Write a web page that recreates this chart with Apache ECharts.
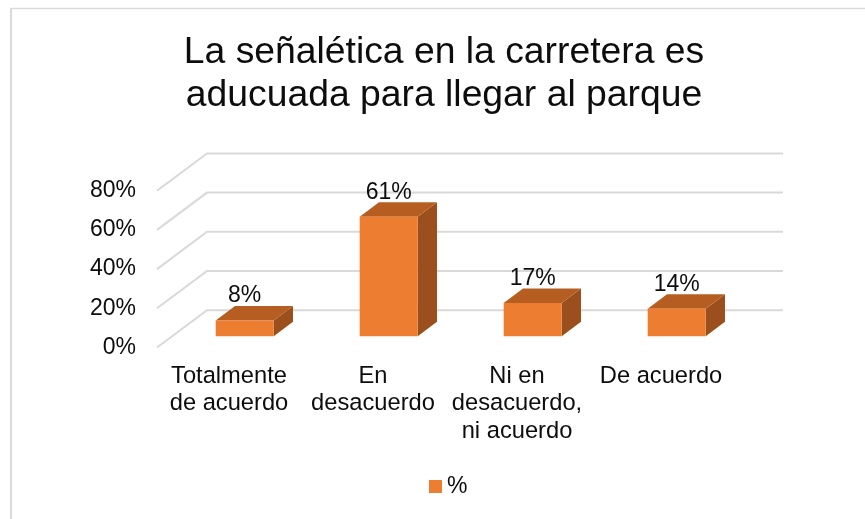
<!DOCTYPE html>
<html>
<head>
<meta charset="utf-8">
<style>html,body{margin:0;padding:0;background:#fff}#c{width:865px;height:519px}</style>
<script src="https://cdn.jsdelivr.net/npm/echarts@6/dist/echarts.min.js"></script>
</head>
<body>
<div id="c"></div>
<script>
const titleText = 'La señalética en la carretera es\naducuada para llegar al parque';
const categories = ['Totalmente\nde acuerdo', 'En\ndesacuerdo', 'Ni en\ndesacuerdo,\nni acuerdo', 'De acuerdo'];
const values = [8, 61, 17, 14];
const yTicks = [0, 20, 40, 60, 80];
const seriesName = '%';

const FONT = '"Liberation Sans", Arial, sans-serif';
const TXT = '#0d0d0d';
const GRIDC = '#d9d9d9';
const wallDx = 50, wallDy = -37.3;   // depth of the whole 3D box
const barDx = 15.7, barDy = -11.2;   // where bars stand inside the box
const depthX = 19.3, depthY = -14.5; // depth of a bar

const chart = echarts.init(document.getElementById('c'), null, {renderer: 'canvas'});
chart.setOption({
  animation: false,
  backgroundColor: '#fff',
  title: {
    text: titleText, left: 444, top: 31, textAlign: 'center', padding: 0,
    textStyle: {fontFamily: FONT, fontSize: 37.3, fontWeight: 'normal', color: TXT, lineHeight: 43}
  },
  legend: {
    data: [seriesName], left: 429, top: 475, padding: 0, icon: 'rect', itemWidth: 13, itemHeight: 13, itemGap: 5,
    textStyle: {fontFamily: FONT, fontSize: 23, color: TXT, padding: [5, 0, 0, 0]}
  },
  grid: {left: 157, width: 576, top: 190.7, height: 156.8},
  xAxis: {
    type: 'category', data: categories,
    axisLine: {show: false}, axisTick: {show: false}, splitLine: {show: false},
    axisLabel: {interval: 0, margin: 15, fontFamily: FONT, fontSize: 23.7, color: TXT, lineHeight: 27.5}
  },
  yAxis: {
    type: 'value', min: 0, max: 80, interval: 20,
    axisLine: {show: false}, axisTick: {show: false}, splitLine: {show: false},
    axisLabel: {margin: 21, padding: [4, 0, 0, 0], formatter: '{value}%', fontFamily: FONT, fontSize: 23, color: TXT}
  },
  graphic: [
    {type: 'line', silent: true, shape: {x1: 11, y1: 8, x2: 11, y2: 519}, style: {stroke: GRIDC, lineWidth: 2}},
    {type: 'line', silent: true, shape: {x1: 10, y1: 8.5, x2: 865, y2: 8.5}, style: {stroke: GRIDC, lineWidth: 1.5}}
  ],
  series: [
    {
      type: 'custom', z: 1, silent: true, clip: false,
      data: yTicks.map(t => [0, t]),
      encode: {y: 1},
      renderItem(params, api) {
        const y = api.coord([0, api.value(1)])[1];
        const cs = params.coordSys;
        return {
          type: 'polyline',
          shape: {points: [[cs.x, y], [cs.x + wallDx, y + wallDy], [cs.x + cs.width + wallDx, y + wallDy]]},
          style: {stroke: GRIDC, lineWidth: 2, fill: null}
        };
      }
    },
    {
      name: seriesName, type: 'custom', z: 2, clip: false,
      itemStyle: {color: '#ED7D31'},
      data: values.map((v, i) => [i, v]),
      encode: {x: 0, y: 1},
      renderItem(params, api) {
        const top = api.coord([api.value(0), api.value(1)]);
        const base = api.coord([api.value(0), 0]);
        const w = api.size([1, 0])[0] * 0.403;
        const x0 = top[0] + barDx - w / 2, x1 = x0 + w;
        const yt = top[1] + barDy, yb = base[1] + barDy;
        return {
          type: 'group',
          children: [
            {type: 'polygon', shape: {points: [[x1, yt], [x1 + depthX, yt + depthY], [x1 + depthX, yb + depthY], [x1, yb]]}, style: {fill: '#9A4F1C'}},
            {type: 'polygon', shape: {points: [[x0, yt], [x0 + depthX, yt + depthY], [x1 + depthX, yt + depthY], [x1, yt]]}, style: {fill: '#B65E22'}},
            {type: 'rect', shape: {x: x0, y: yt, width: w, height: yb - yt}, style: {fill: '#ED7D31'}},
            {type: 'text', z2: 5, style: {
              x: (x0 + x1) / 2, y: yt - 24.5, text: api.value(1) + '%',
              align: 'center', verticalAlign: 'middle',
              font: '23px ' + FONT, fill: TXT
            }}
          ]
        };
      }
    }
  ]
});
</script>
</body>
</html>
